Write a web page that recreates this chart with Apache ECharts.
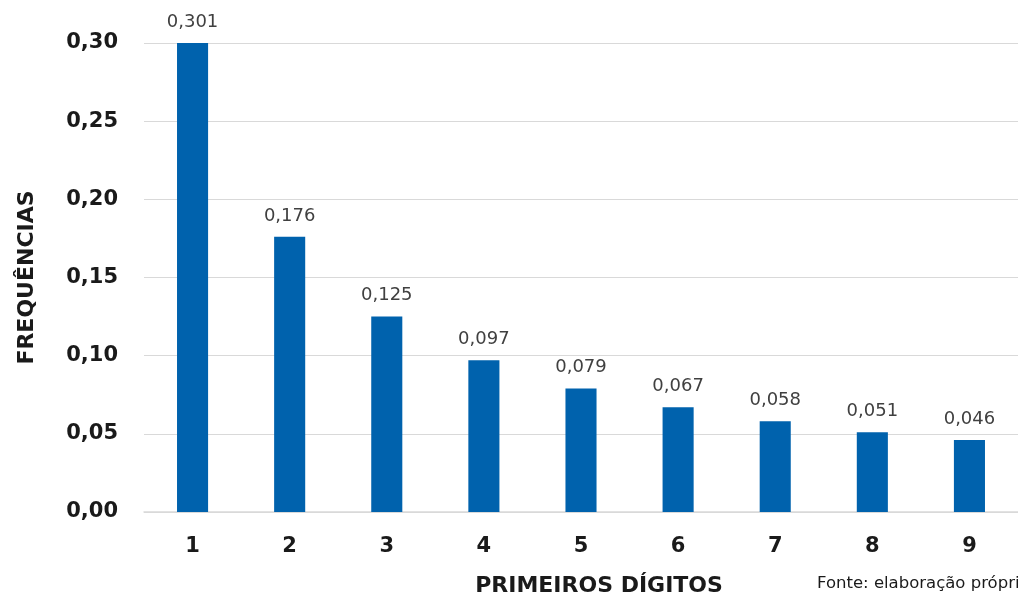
<!DOCTYPE html>
<html>
<head>
<meta charset="utf-8">
<script src="https://cdn.jsdelivr.net/npm/echarts@6/dist/echarts.min.js"></script>
<style>
  html, body { margin: 0; padding: 0; background: #fff; }
  #chart { width: 1018px; height: 600px; }
</style>
</head>
<body>
<div id="chart"></div>
<script>
// primeiros dígitos (lei de Benford)
var digitos = ['1', '2', '3', '4', '5', '6', '7', '8', '9'];
var frequencias = [0.301, 0.176, 0.125, 0.097, 0.079, 0.067, 0.058, 0.051, 0.046];

var FONT = '"DejaVu Sans"';

function virgula(v, casas) {
    return v.toFixed(casas).replace('.', ',');
}

var chart = echarts.init(document.getElementById('chart'));

var option = {
    animation: false,
    textStyle: { fontFamily: FONT },
    grid: {
        left: 144,
        right: -4,
        top: 43,
        bottom: 88,
        containLabel: false
    },
    xAxis: {
        type: 'category',
        data: digitos,
        axisLine: { show: true, lineStyle: { color: '#d9d9d9', width: 1.5 } },
        axisTick: { show: false },
        axisLabel: {
            color: '#1a1a1a',
            fontSize: 21,
            fontWeight: 'bold',
            fontFamily: FONT,
            margin: 24
        }
    },
    yAxis: {
        type: 'value',
        min: 0,
        max: 0.30,
        interval: 0.05,
        name: 'FREQUÊNCIAS',
        nameLocation: 'middle',
        nameRotate: 90,
        nameGap: 106,
        nameTextStyle: {
            color: '#1a1a1a',
            fontSize: 22,
            fontWeight: 'bold',
            fontFamily: FONT
        },
        axisLine: { show: false },
        axisTick: { show: false },
        splitLine: { lineStyle: { color: '#d9d9d9', width: 1.2 } },
        axisLabel: {
            color: '#1a1a1a',
            fontSize: 21,
            fontWeight: 'bold',
            fontFamily: FONT,
            margin: 26,
            formatter: function (v) { return virgula(v, 2); }
        }
    },
    series: [{
        type: 'bar',
        data: frequencias,
        barWidth: '32%',
        itemStyle: { color: '#0062ad' },
        label: {
            show: true,
            position: 'top',
            distance: 12,
            color: '#404040',
            fontSize: 18,
            fontFamily: FONT,
            formatter: function (p) { return virgula(p.value, 3); }
        }
    }],
    graphic: [
        {
            type: 'text',
            x: 599,
            y: 586,
            style: {
                text: 'PRIMEIROS DÍGITOS',
                fill: '#1a1a1a',
                font: 'bold 22px ' + FONT,
                textAlign: 'center',
                textVerticalAlign: 'middle'
            }
        },
        {
            type: 'text',
            x: 817,
            y: 584,
            style: {
                text: 'Fonte: elaboração própria',
                fill: '#1a1a1a',
                font: '16.5px ' + FONT,
                textAlign: 'left',
                textVerticalAlign: 'middle'
            }
        }
    ]
};

chart.setOption(option);
</script>
</body>
</html>
